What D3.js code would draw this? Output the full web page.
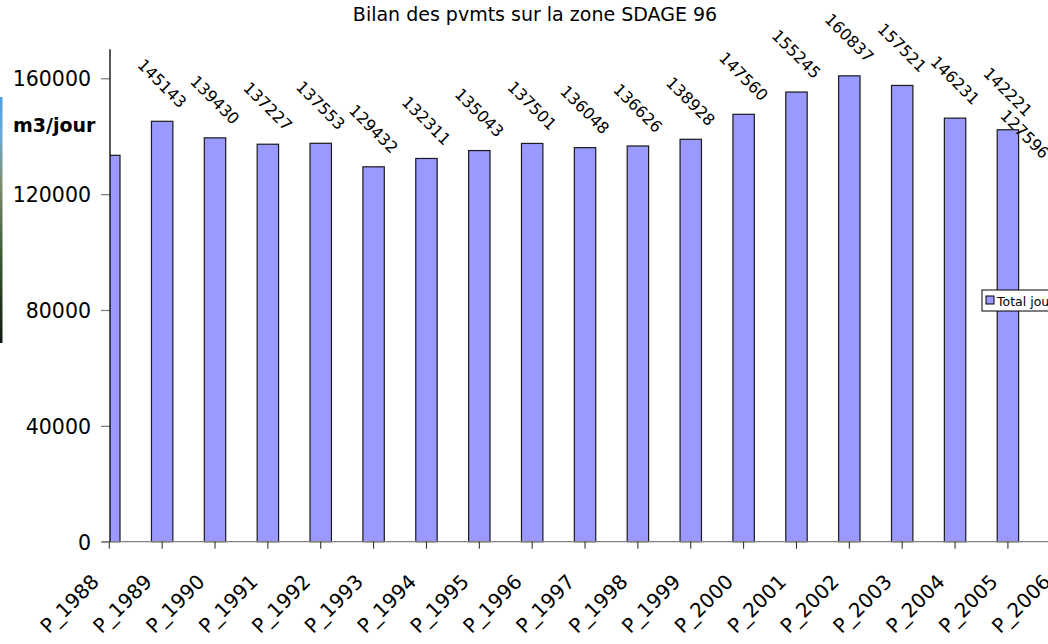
<!DOCTYPE html>
<html>
<head>
<meta charset="utf-8">
<script src="https://cdn.jsdelivr.net/npm/d3@7"></script>
<style>
  html, body { margin: 0; padding: 0; background: #fff; }
  svg { display: block; }
  text { font-family: "DejaVu Sans", sans-serif; fill: #000; }
</style>
</head>
<body>
<svg id="chart" width="1048" height="644"></svg>
<script>
// ---- data ----
const categories = ["P_1988","P_1989","P_1990","P_1991","P_1992","P_1993","P_1994","P_1995","P_1996","P_1997","P_1998","P_1999","P_2000","P_2001","P_2002","P_2003","P_2004","P_2005","P_2006"];
const totalJour = [133400,145143,139430,137227,137553,129432,132311,135043,137501,136048,136626,138928,147560,155245,160837,157521,146231,142221,127596];
const yTicks = [0,40000,80000,120000,160000];
const titleText = "Bilan des pvmts sur la zone SDAGE 96";
const yAxisTitle = "m3/jour";
const seriesName = "Total jour";

// ---- layout ----
const W = 1048, H = 644;
const axisX = 110;
const firstCenter = 109.3, step = 52.86;
const barW = 21.4;

const svg = d3.select("#chart");

const x = d3.scalePoint()
  .domain(categories)
  .range([firstCenter, firstCenter + step * (categories.length - 1)]);
const y = d3.scaleLinear().domain([0, 170000]).range([541.7, 49.3]);

// decorative strip at the far left (background picture edge)
const defs = svg.append("defs");
const grad = defs.append("linearGradient")
  .attr("id", "strip").attr("x1", 0).attr("x2", 0).attr("y1", 0).attr("y2", 1);
grad.append("stop").attr("offset", "0%").attr("stop-color", "#4f9fe0");
grad.append("stop").attr("offset", "15%").attr("stop-color", "#6aa9d8");
grad.append("stop").attr("offset", "35%").attr("stop-color", "#7f8f70");
grad.append("stop").attr("offset", "65%").attr("stop-color", "#3a5a30");
grad.append("stop").attr("offset", "100%").attr("stop-color", "#101810");
svg.append("rect").attr("x", 0).attr("y", 97).attr("width", 2.5).attr("height", 246).attr("fill", "url(#strip)");

defs.append("clipPath").attr("id", "plotclip")
  .append("rect").attr("x", axisX).attr("y", 0).attr("width", W - axisX).attr("height", H);

// title
svg.append("text")
  .attr("x", 535).attr("y", 21)
  .attr("text-anchor", "middle")
  .style("font-size", "19px")
  .text(titleText);

// y axis title
svg.append("text")
  .attr("x", 13).attr("y", 132)
  .style("font-size", "19px").style("font-weight", "bold")
  .text(yAxisTitle);

// bars
svg.append("g").attr("clip-path", "url(#plotclip)")
  .selectAll("rect").data(totalJour).join("rect")
  .attr("x", (d, i) => x(categories[i]) - barW / 2)
  .attr("y", d => y(d))
  .attr("width", barW)
  .attr("height", d => y(0) - y(d))
  .attr("fill", "#9999FF")
  .attr("stroke", "#1a1a1a")
  .attr("stroke-width", 1.2);

// x axis line
svg.append("line")
  .attr("x1", 102).attr("x2", W).attr("y1", y(0)).attr("y2", y(0))
  .attr("stroke", "#808080").attr("stroke-width", 1.3);

// x ticks (downward, at category centers)
svg.append("g").selectAll("line").data(categories).join("line")
  .attr("x1", d => x(d)).attr("x2", d => x(d))
  .attr("y1", y(0)).attr("y2", y(0) + 7)
  .attr("stroke", "#222").attr("stroke-width", 1);

// y axis
const yAxis = d3.axisLeft(y).tickValues(yTicks).tickSize(9).tickPadding(10).tickFormat(d3.format("d"));
const gy = svg.append("g").attr("transform", `translate(${axisX},0)`).call(yAxis);
gy.select(".domain").remove();
gy.selectAll(".tick line").attr("stroke", "#808080").attr("stroke-width", 1.3);
gy.selectAll(".tick text").style("font-size", "20.5px").attr("font-family", null).attr("dy", "0.36em");
svg.append("line")
  .attr("x1", axisX).attr("x2", axisX).attr("y1", y(170000)).attr("y2", y(0))
  .attr("stroke", "#000").attr("stroke-width", 1.3);

// x labels
svg.append("g").selectAll("text").data(categories).join("text")
  .attr("transform", d => `translate(${x(d) - 9},583) rotate(-45)`)
  .attr("text-anchor", "end")
  .style("font-size", "20px")
  .text(d => d);

// data labels (rotated 45deg, kept inside chart area; first one hidden behind axis area)
const halfLab = 23;
svg.append("g").selectAll("text").data(totalJour.map((v, i) => ({v, i}))).join("text")
  .filter(d => d.i > 0)
  .attr("transform", d => {
    const cx = Math.min(x(categories[d.i]), W - halfLab);
    return `translate(${cx},${y(d.v) - 38}) rotate(45)`;
  })
  .attr("text-anchor", "middle")
  .attr("dy", "0.36em")
  .style("font-size", "16px")
  .text(d => d.v);

// legend
const lg = svg.append("g").attr("transform", "translate(982,290)");
lg.append("rect").attr("width", 90).attr("height", 21).attr("fill", "#fff").attr("stroke", "#000").attr("stroke-width", 1);
lg.append("rect").attr("x", 4).attr("y", 6).attr("width", 8).attr("height", 8)
  .attr("fill", "#9999FF").attr("stroke", "#000").attr("stroke-width", 1);
lg.append("text").attr("x", 15).attr("y", 15.5).style("font-size", "12.5px").text(seriesName);
</script>
</body>
</html>
